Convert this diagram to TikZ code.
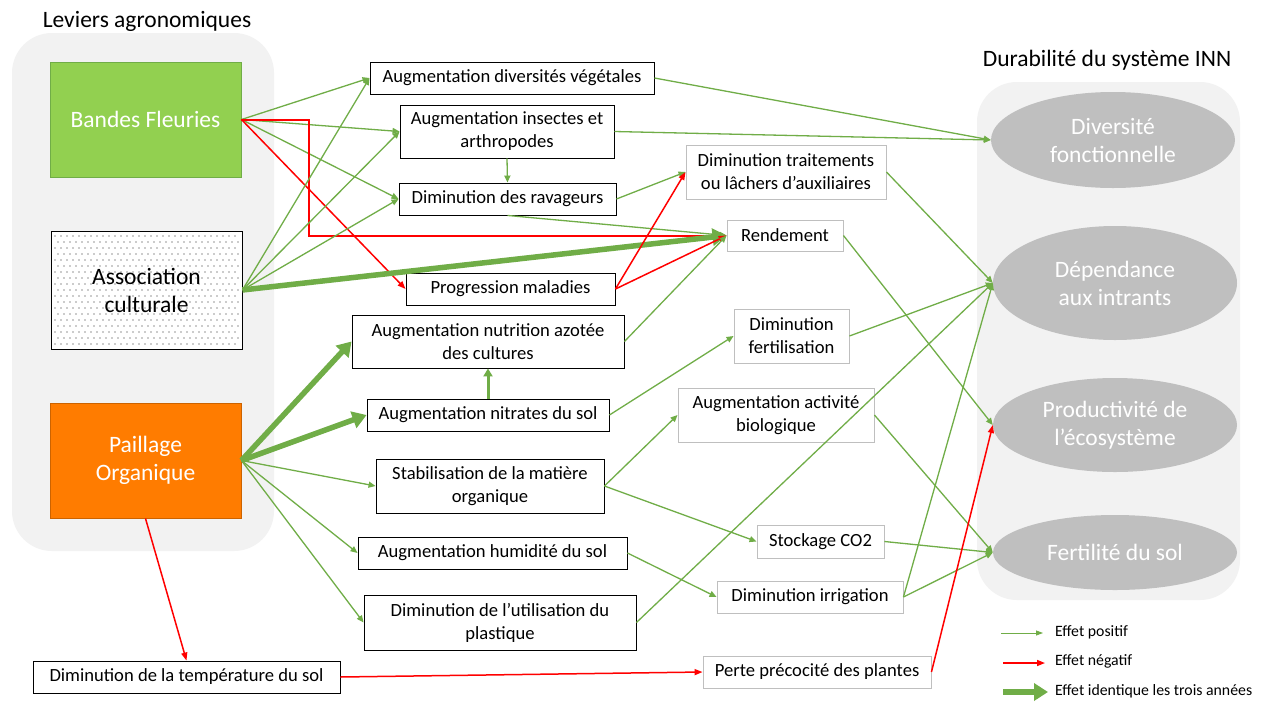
\documentclass[tikz,border=0pt]{standalone}
\usepackage{fontspec}
\setmainfont{Carlito}
\usetikzlibrary{arrows.meta,shapes.geometric,calc}
\definecolor{gr}{HTML}{70AD47}
\definecolor{bfgreen}{HTML}{92D050}
\definecolor{orng}{HTML}{FF7C00}
\definecolor{panel}{HTML}{F2F2F2}
\definecolor{ellg}{HTML}{BFBFBF}
\definecolor{redc}{HTML}{FF0000}
\begin{document}
\begin{tikzpicture}[x=1pt,y=-1pt,
  box/.style={draw=black, line width=0.9pt, fill=white, inner sep=0pt, align=center, font=\fontsize{18.6}{23}\selectfont},
  gbox/.style={box, draw=black!25},
  lever/.style={inner sep=0pt, align=center, line width=0.9pt, minimum width=191, font=\fontsize{23.5}{28}\selectfont},
  ell/.style={ellipse, fill=ellg, inner sep=0pt, minimum width=244, align=center, text=white, font=\fontsize{23.5}{28}\selectfont},
  posarr/.style={draw=gr, line width=1.3pt, -{Triangle[length=7pt,width=6pt]}},
  negarr/.style={color=redc, draw=redc, line width=1.5pt, -{Triangle[length=8pt,width=6pt]}},
  samearr/.style={draw=gr, line width=5.5pt, -{Triangle[length=14pt,width=17pt]}},
  ttl/.style={font=\fontsize{23.5}{28}\selectfont, inner sep=0pt},
  leg/.style={font=\fontsize{15.8}{18}\selectfont, inner sep=0pt, anchor=west}
]
\useasboundingbox (0,0) rectangle (1264,702);
\fill[white] (0,0) rectangle (1264,702);

% panels
\fill[panel, rounded corners=40pt] (12,33) rectangle (274,551);
\fill[panel, rounded corners=40pt] (977,82) rectangle (1240,600);

% titles
\node[ttl] (t1) at (147,21) {Leviers agronomiques};
\node[ttl] (t2) at (1107,60) {Durabilité du système INN};

% levers
\node[lever, fill=bfgreen, draw=gr, minimum height=115, text=white] (bf) at (145.5,119.5) {Bandes Fleuries};
\fill[white] (51,231) rectangle (242,349);
\foreach \j in {0,...,18}{
  \pgfmathsetmacro\off{mod(\j,2)*3}
  \foreach \i in {0,...,30}{
    \fill[black!85] (55+\off+\i*6, 236+\j*6) circle (0.6);
  }
}
\node[lever, draw=black, minimum height=118] (assoc) at (146.5,290) {Association\\culturale};
\node[lever, fill=orng, draw=orng!80!black, minimum height=115, text=white] (paill) at (145.5,460.5) {Paillage\\Organique};

% middle boxes
\node[box, minimum width=284, minimum height=32] (vege) at (512,78) {Augmentation diversités végétales};
\node[box, minimum width=214, minimum height=53] (insect) at (507,131.5) {Augmentation insectes et\\arthropodes};
\node[box, minimum width=217, minimum height=32] (ravag) at (507.5,199) {Diminution des ravageurs};
\node[gbox, minimum width=200, minimum height=54] (trait) at (786,172) {Diminution traitements\\ou lâchers d’auxiliaires};
\node[gbox, minimum width=116, minimum height=31] (rend) at (785,235.5) {Rendement};
\node[box, minimum width=209, minimum height=32] (malad) at (510.5,289) {Progression maladies};
\node[box, minimum width=272, minimum height=53] (nutri) at (488,341.5) {Augmentation nutrition azotée\\des cultures};
\node[gbox, minimum width=115, minimum height=54] (fert) at (791.5,336) {Diminution\\fertilisation};
\node[box, minimum width=242, minimum height=32] (nitr) at (488,415) {Augmentation nitrates du sol};
\node[box, minimum width=228, minimum height=54] (stab) at (490,486) {Stabilisation de la matière\\organique};
\node[box, minimum width=269, minimum height=32] (humid) at (492.5,553) {Augmentation humidité du sol};
\node[box, minimum width=272, minimum height=55] (plast) at (500,622.5) {Diminution de l’utilisation du\\plastique};
\node[box, minimum width=307, minimum height=32] (temp) at (186.5,677) {Diminution de la température du sol};
\node[gbox, minimum width=196, minimum height=54] (activ) at (776,415) {Augmentation activité\\biologique};
\node[gbox, minimum width=127, minimum height=33] (stock) at (820.5,541.5) {Stockage CO2};
\node[gbox, minimum width=186, minimum height=32] (irrig) at (810,597) {Diminution irrigation};
\node[gbox, minimum width=228, minimum height=32] (perte) at (817,672) {Perte précocité des plantes};

% ellipses
\node[ell, minimum height=96] (divf) at (1113,140) {Diversité\\fonctionnelle};
\node[ell, minimum height=114] (dep) at (1115,283) {Dépendance\\aux intrants};
\node[ell, minimum height=94] (prod) at (1115,425) {Productivité de\\l’écosystème};
\node[ell, minimum height=75] (fertsol) at (1115,552.5) {Fertilité du sol};

% connectors from Bandes Fleuries
\draw[posarr] (bf.east) -- (vege.west);
\draw[posarr] (bf.east) -- (insect.west);
\draw[posarr] (bf.east) -- (ravag.west);
\draw[negarr] (bf.east) -- (malad.west);
\coordinate (bend) at ($(bf.east)+(68,0)$);
\draw[negarr, line width=2pt] (bf.east) -- (bend) |- (rend.west);

% from Association culturale
\draw[posarr] (assoc.east) -- (vege.west);
\draw[posarr] (assoc.east) -- (insect.west);
\draw[posarr] (assoc.east) -- (ravag.west);
\draw[samearr] (assoc.east) -- (rend.west);

% middle links
\draw[posarr] (insect.south) -- (ravag.north);
\draw[posarr] (vege.east) -- (divf.west);
\draw[posarr] (insect.east) -- (divf.west);
\draw[posarr] (ravag.east) -- (trait.west);
\draw[posarr] (ravag.south) -- (rend.west);
\draw[negarr] (malad.east) -- (trait.west);
\draw[negarr] (malad.east) -- (rend.west);
\draw[posarr] (nutri.east) -- (rend.west);
\draw[posarr] (trait.east) -- (dep.west);
\draw[posarr] (rend.east) -- (prod.west);
\draw[posarr] (fert.east) -- (dep.west);
\draw[posarr] (nitr.east) -- (fert.west);
\draw[draw=gr, line width=3pt, -{Triangle[length=8pt,width=9pt]}] (nitr.north) -- (nutri.south);

% from Paillage
\draw[samearr] (paill.east) -- (nutri.west);
\draw[samearr] (paill.east) -- (nitr.west);
\draw[posarr] (paill.east) -- (stab.west);
\draw[posarr] (paill.east) -- (humid.west);
\draw[posarr] (paill.east) -- (plast.west);
\draw[negarr] (paill.south) -- (temp.north);

\draw[posarr] (stab.east) -- (activ.west);
\draw[posarr] (stab.east) -- (stock.west);
\draw[posarr] (humid.east) -- (irrig.west);
\draw[posarr] (plast.east) -- (dep.west);
\draw[posarr] (activ.east) -- (fertsol.west);
\draw[posarr] (stock.east) -- (fertsol.west);
\draw[posarr] (irrig.east) -- (dep.west);
\draw[posarr] (irrig.east) -- (fertsol.west);
\draw[negarr] (temp.east) -- (perte.west);
\draw[negarr] (perte.east) -- (prod.west);

% legend
\coordinate (l1a) at (1001,633); \coordinate (l1b) at (1043,633);
\coordinate (l2a) at (1003,663); \coordinate (l2b) at (1045,663);
\coordinate (l3a) at (1003,692); \coordinate (l3b) at (1048,692);
\draw[draw=gr, line width=0.8pt, -{Triangle[length=7pt,width=5pt]}] (l1a) -- (l1b);
\draw[negarr] (l2a) -- (l2b);
\draw[samearr] (l3a) -- (l3b);
\node[leg] (lt1) at (1055,632) {Effet positif};
\node[leg] (lt2) at (1055,661) {Effet négatif};
\node[leg] (lt3) at (1055,691) {Effet identique les trois années};
\end{tikzpicture}
\end{document}
